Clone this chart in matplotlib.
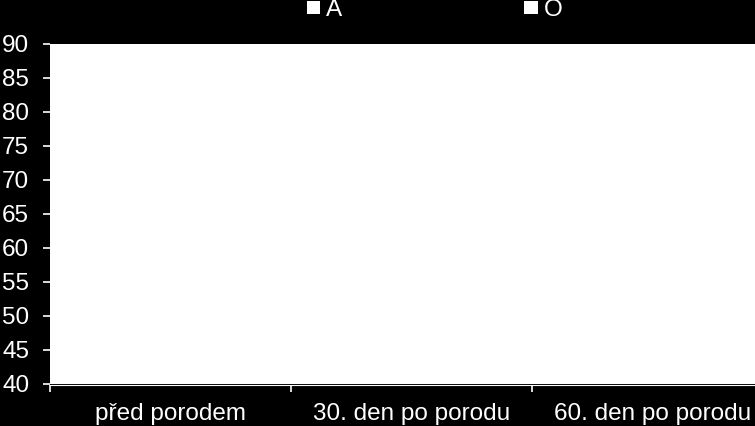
import matplotlib.pyplot as plt
import numpy as np

# categories and series (bars are white on white in the source, values not readable)
categories = ["před porodem", "30. den po porodu", "60. den po porodu"]
series_names = ["A", "O"]
values_a = [np.nan, np.nan, np.nan]
values_o = [np.nan, np.nan, np.nan]
yticks = [40, 45, 50, 55, 60, 65, 70, 75, 80, 85, 90]

plt.rcParams['font.family'] = ['Liberation Sans', 'DejaVu Sans']
fs = 17.5

fig = plt.figure(figsize=(7.55, 4.26), dpi=100, facecolor='black')
ax = fig.add_axes([50 / 755, 1 - 384 / 426, 723 / 755, 340 / 426])
ax.set_facecolor('white')

x = np.arange(len(categories))
w = 0.3
ax.bar(x - w / 2, values_a, w, color='white', label=series_names[0])
ax.bar(x + w / 2, values_o, w, color='white', label=series_names[1])

ax.set_xlim(-0.5, len(categories) - 0.5)
ax.set_ylim(40, 90)
ax.set_yticks(yticks)
ax.set_xticks(x)
ax.set_xticklabels(categories)
ax.set_xticks(np.arange(len(categories)) - 0.5, minor=True)

for s in ax.spines.values():
    s.set_visible(False)
ax.spines['bottom'].set_visible(True)
ax.spines['bottom'].set_color('white')
ax.spines['bottom'].set_position(('outward', 1))

ax.tick_params(axis='y', colors='white', labelsize=fs, length=5, width=1.2, pad=10)
ax.tick_params(axis='x', which='major', colors='white', labelsize=fs, length=0, pad=13)
ax.tick_params(axis='x', which='minor', colors='white', length=5, width=1.2)

leg = fig.legend(loc='center left', bbox_to_anchor=(307 / 755, 1 - 10 / 426),
                 ncol=2, frameon=False, fontsize=fs, handlelength=0.535, handleheight=0.45,
                 handletextpad=0.25, columnspacing=7.5, borderpad=0, borderaxespad=0)
for t in leg.get_texts():
    t.set_color('white')

fig.savefig('out.png', dpi=100, facecolor='black')
